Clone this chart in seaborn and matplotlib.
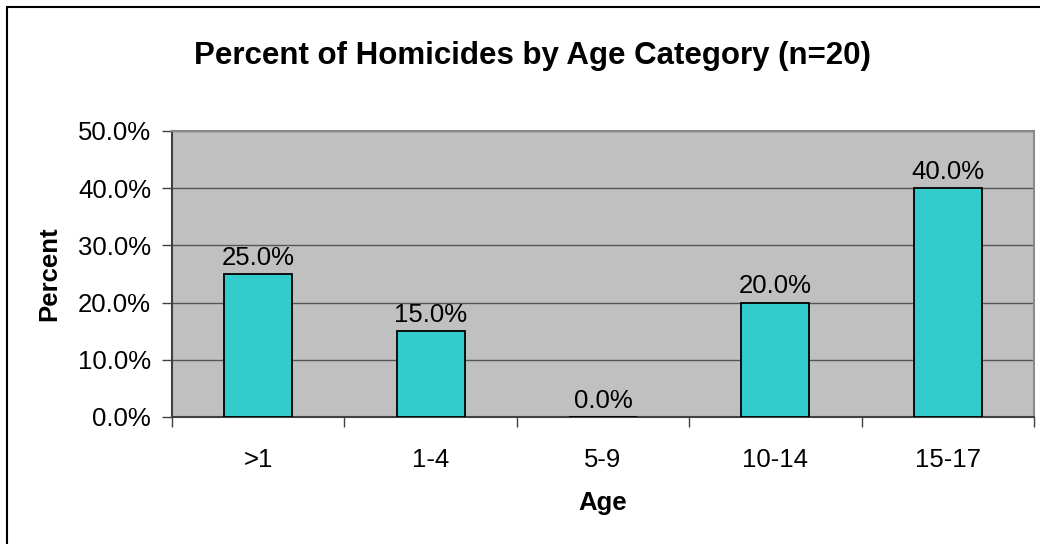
import matplotlib
matplotlib.use("Agg")
import matplotlib.pyplot as plt
import seaborn as sns
import pandas as pd
import numpy as np
from matplotlib.ticker import FuncFormatter, FixedLocator
from matplotlib.lines import Line2D

categories = [">1", "1-4", "5-9", "10-14", "15-17"]
percents = [0.25, 0.15, 0.0, 0.20, 0.40]
yticks = [0.0, 0.1, 0.2, 0.3, 0.4, 0.5]

sns.set_theme(style="white")
plt.rcParams['font.family'] = ['Liberation Sans', 'DejaVu Sans']
plt.rcParams['text.color'] = 'black'
plt.rcParams['axes.labelcolor'] = 'black'
plt.rcParams['xtick.color'] = 'black'
plt.rcParams['ytick.color'] = 'black'

df = pd.DataFrame({"Age": categories, "Percent": percents})

fig = plt.figure(figsize=(10.4, 5.44), dpi=100)
ax = fig.add_axes([172/1040, (544-417)/544, (1034-172)/1040, (417-131)/544])
ax.set_facecolor("#C0C0C0")

sns.barplot(data=df, x="Age", y="Percent", order=categories, color="#33CCCC",
            saturation=1, width=0.394, edgecolor="black", linewidth=1.3, ax=ax, zorder=3)

ax.set_ylim(0, 0.5)
ax.set_xlim(-0.5, len(categories) - 0.5)
ax.set_yticks(yticks)
ax.yaxis.set_major_formatter(FuncFormatter(lambda v, p: f"{v*100:.1f}%"))
ax.grid(axis="y", color="#555555", linewidth=1.0, zorder=1)
ax.set_axisbelow(True)

ax.tick_params(axis="y", which="major", length=7, width=1, color="#404040",
               labelsize=18.5, labelcolor="black", pad=8, left=True, direction="out")
ax.tick_params(axis="x", which="major", length=0, labelsize=18.5, labelcolor="black", pad=22)
ax.xaxis.set_minor_locator(FixedLocator(np.arange(-0.5, len(categories), 1.0)))
ax.tick_params(axis="x", which="minor", length=7, width=1, color="#404040",
               bottom=True, direction="out")

for s in ["top", "right"]:
    ax.spines[s].set_color("#8a8a8a")
    ax.spines[s].set_linewidth(1.5)
for s in ["left", "bottom"]:
    ax.spines[s].set_color("#404040")
    ax.spines[s].set_linewidth(1.5)

for i, v in enumerate(percents):
    ax.annotate(f"{v*100:.1f}%", xy=(i, v), xytext=(0, 3), textcoords="offset points",
                ha="center", va="bottom", fontsize=18.5, color="black", zorder=4)

ax.set_xlabel("Age", fontsize=18.5, fontweight="bold", labelpad=14, color="black")
ax.set_ylabel("Percent", fontsize=18.5, fontweight="bold", labelpad=12, color="black")

fig.text(532/1040, 1 - 56/544, "Percent of Homicides by Age Category (n=20)",
         ha="center", va="center", fontsize=22.5, fontweight="bold", color="black")

# chart border (left and top visible)
fig.add_artist(Line2D([7/1040, 7/1040], [0, 1 - 7/544], transform=fig.transFigure,
                      color="black", linewidth=1.5))
fig.add_artist(Line2D([7/1040, 1], [1 - 7/544, 1 - 7/544], transform=fig.transFigure,
                      color="black", linewidth=1.5))

fig.savefig("out.png", dpi=100)
